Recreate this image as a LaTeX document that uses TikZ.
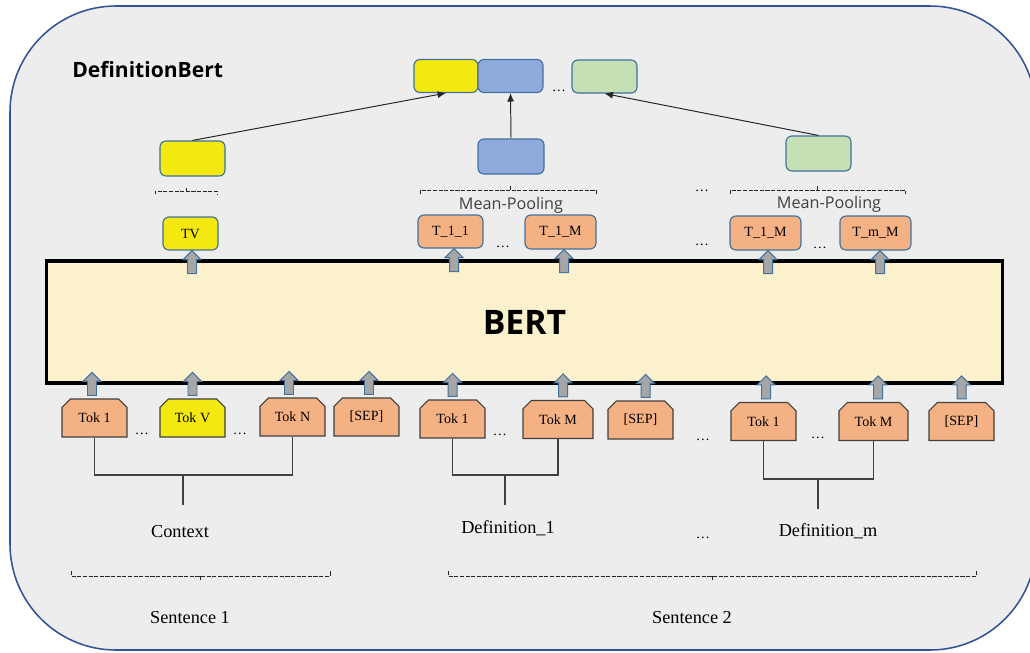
\documentclass[tikz,border=0pt]{standalone}
\usepackage{fontspec}
\usepackage{tikz}
\usetikzlibrary{shapes.misc,arrows.meta,calc}
\setmainfont{Liberation Serif}
\newfontfamily\uifont{Open Sans}
\definecolor{panelgray}{HTML}{EDEDED}
\definecolor{panelblue}{HTML}{2F5597}
\definecolor{boxblue}{HTML}{41719C}
\definecolor{tokorange}{HTML}{F4B183}
\definecolor{vecyellow}{HTML}{F3E80F}
\definecolor{vecblue}{HTML}{8FAADC}
\definecolor{vecgreen}{HTML}{C5E0B4}
\definecolor{bertfill}{HTML}{FCF1CD}
\definecolor{arrgray}{HTML}{A6A6A6}
\definecolor{linegray}{HTML}{404040}
\newcommand{\blockup}[1]{\draw[draw=boxblue,fill=arrgray,line width=0.7pt] (#1) ++(-4.5,0) -- ++(0,-14) -- ++(-4.5,0) -- ++(9,-9) -- ++(9,9) -- ++(-4.5,0) -- ++(0,14) -- cycle;}

\begin{document}
\begin{tikzpicture}[x=0.025cm, y=-0.025cm, font=\fontsize{10}{12}\selectfont,
  tok/.style={chamfered rectangle, chamfered rectangle corners={north west,north east},
    chamfered rectangle xsep=0.09cm, chamfered rectangle ysep=0.12cm, draw=linegray,
    line width=0.8pt, fill=tokorange, minimum width=1.625cm, minimum height=0.95cm, inner sep=0pt},
  outtok/.style={rounded corners=0.15cm, draw=boxblue, line width=0.8pt, fill=tokorange,
    minimum width=1.625cm, minimum height=0.825cm, inner sep=0pt},
  vec/.style={rounded corners=0.15cm, draw=boxblue, line width=0.8pt, minimum width=1.625cm,
    minimum height=0.875cm, inner sep=0pt},
  dotnode/.style={inner sep=0pt, anchor=base},
  bigtext/.style={font=\fontsize{13}{15}\selectfont, inner sep=0pt, anchor=base},
  pooltext/.style={font=\uifont\fontsize{11.5}{14}\selectfont, text=linegray, inner sep=0pt, anchor=base},
  bracket/.style={linegray, line width=0.8pt},
  dbrace/.style={black!85, line width=0.7pt, dash pattern=on 3pt off 1pt},
  feed/.style={-{Latex[length=6pt,width=5pt]}, black!85, line width=0.7pt}]

\useasboundingbox (0,0) rectangle (1030,652);
\draw[panelblue, fill=panelgray, line width=1.1pt, rounded corners=2.65cm] (10,6) rectangle (1036,650);
\node[anchor=base west, inner sep=0pt, font=\uifont\bfseries\fontsize{15}{18}\selectfont] (title) at (72,77) {DefinitionBert};

\node[draw=black, line width=2.2pt, fill=bertfill, minimum width=23.875cm, minimum height=3.05cm,
  inner sep=0pt, font=\uifont\bfseries\fontsize{24}{28}\selectfont] (bert) at (524.5,322) {BERT};

\node[tok] (ctx1) at (94.5,418) {Tok 1};
\node[tok, fill=vecyellow] (ctxv) at (192.5,418) {Tok V};
\node[tok] (ctxn) at (292.5,417) {Tok N};
\node[tok] (sep1) at (366.5,417) {[SEP]};
\node[tok] (dfa1) at (452.5,419) {Tok 1};
\node[tok, minimum width=1.75cm] (dfam) at (558,419.5) {Tok M};
\node[tok] (sep2) at (640.5,420) {[SEP]};
\node[tok] (dfb1) at (763.5,421.5) {Tok 1};
\node[tok, minimum width=1.725cm] (dfbm) at (873.5,421.5) {Tok M};
\node[tok] (sep3) at (961.5,421.5) {[SEP]};
\node[dotnode] (dt1) at (142,434) {\dots};
\node[dotnode] (dt2) at (240,434) {\dots};
\node[dotnode] (dt3) at (500,435) {\dots};
\node[dotnode] (dt4) at (703,440) {\dots};
\node[dotnode] (dt5) at (818,438) {\dots};

\foreach \t/\s in {ctx1/-2.5, ctxv/0, ctxn/-3.5, sep1/2.5, dfa1/0, dfam/5, sep2/5, dfb1/2.5, dfbm/4.5, sep3/0}
  \blockup{$(\t.north)+(\s,-3)$};

\node[outtok, fill=vecyellow, minimum width=1.375cm] (tv) at (190.5,233.5) {TV};
\node[outtok] (o11) at (450.5,231.5) {T\_1\_1};
\node[outtok, minimum width=1.775cm, minimum height=0.85cm] (o1m) at (560.5,232) {T\_1\_M};
\node[outtok, minimum width=1.775cm, minimum height=0.85cm] (o1mb) at (765.5,233) {T\_1\_M};
\node[outtok, minimum width=1.775cm, minimum height=0.85cm] (omm) at (875.5,233) {T\_m\_M};
\node[dotnode] (dt6) at (503,247) {\dots};
\node[dotnode] (dt7) at (702,245) {\dots};
\node[dotnode] (dt8) at (820,248) {\dots};

\foreach \t/\s in {tv/1.5, o11/3.5, o1m/3.5, o1mb/2.5, omm/4.5}
  \blockup{$(\t.south)+(\s,23)$};

\node[pooltext] (pool1) at (511,209) {Mean-Pooling};
\node[pooltext] (pool2) at (829,208) {Mean-Pooling};
\node[dotnode] (dt9) at (702,191) {\dots};
\draw[dbrace] (155,194) |- (217,191) -- (217,194);
\draw[dbrace] (186,191) -- (186,188);
\draw[dbrace] (420,194) |- (596,190) -- (596,194);
\draw[dbrace] (510,190) -- (510,186);
\draw[dbrace] (730,194) |- (905,190) -- (905,194);
\draw[dbrace] (817,190) -- (817,186);

\node[vec, fill=vecyellow] (ymid) at (192.5,158.5) {};
\node[vec, fill=vecblue, minimum width=1.65cm] (bmid) at (511,156.5) {};
\node[vec, fill=vecgreen] (gmid) at (818.5,153.5) {};
\node[vec, fill=vecyellow, minimum width=1.6cm, minimum height=0.825cm] (ytop) at (446,76) {};
\node[vec, fill=vecblue, minimum height=0.825cm] (btop) at (510.5,76) {};
\node[vec, fill=vecgreen, minimum height=0.825cm] (gtop) at (604.5,76.5) {};
\node[dotnode] (dt10) at (559,91) {\dots};
\draw[feed] (ymid.north) -- (ytop.south);
\draw[feed] (bmid.north) -- (btop.south);
\draw[feed] (gmid.north) -- (gtop.south);

\coordinate (ctxj) at (183,475);
\coordinate (dfaj) at (505,475);
\coordinate (dfbj) at (818,479);
\draw[bracket] (ctx1.south) |- (ctxj) -| (ctxn.south);
\draw[bracket] (ctxj) -- ++(0,30);
\draw[bracket] (dfa1.south) |- (dfaj) -| (dfam.south);
\draw[bracket] (dfaj) -- ++(0,30);
\draw[bracket] (dfb1.south) |- (dfbj) -| (dfbm.south);
\draw[bracket] (dfbj) -- ++(0,30);

\node[bigtext] (ctx) at (180,537) {Context};
\node[bigtext] (def1) at (508,533) {Definition\_1};
\node[bigtext] (defm) at (828,536) {Definition\_m};
\node[dotnode] (dt11) at (703,538) {\dots};

\draw[dbrace] (71,571) |- (330,576) -- (330,571);
\draw[dbrace] (200,576) -- (200,581);
\draw[dbrace] (448,571) |- (976,576) -- (976,571);
\draw[dbrace] (712,576) -- (712,581);
\node[bigtext] (sen1) at (190,623) {Sentence 1};
\node[bigtext] (sen2) at (692,623) {Sentence 2};
\end{tikzpicture}
\end{document}
